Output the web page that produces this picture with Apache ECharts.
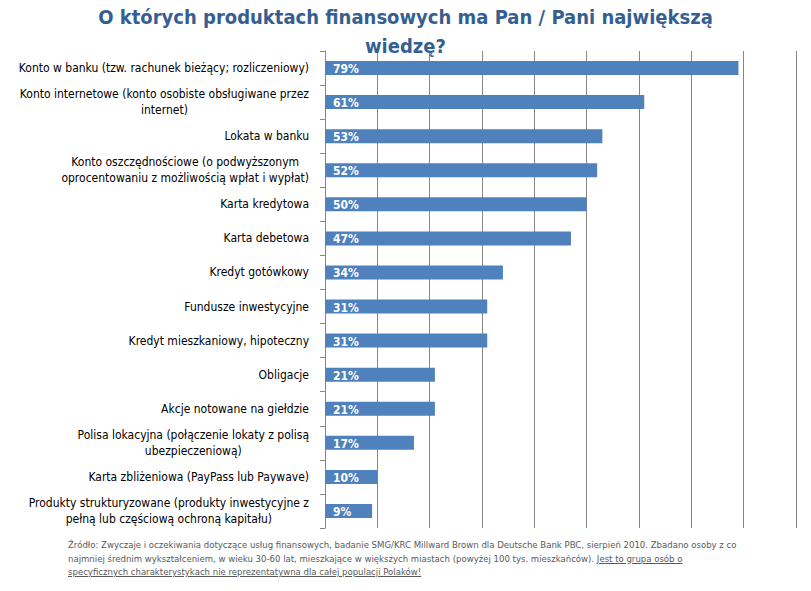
<!DOCTYPE html>
<html>
<head>
<meta charset="utf-8">
<script src="https://cdn.jsdelivr.net/npm/echarts@6/dist/echarts.min.js"></script>
<style>
html,body{margin:0;padding:0;background:#fff;}
#chart{position:absolute;left:0;top:0;width:811px;height:591px;}
#note{position:absolute;left:68px;top:538px;width:720px;font-family:"DejaVu Sans Condensed",sans-serif;font-size:9.5px;line-height:13.5px;color:#595959;white-space:nowrap;}
#note u{text-decoration:underline;}
</style>
</head>
<body>
<div id="chart"></div>
<div id="note">Źródło: Zwyczaje i oczekiwania dotyczące usług finansowych, badanie SMG/KRC Millward Brown dla Deutsche Bank PBC, sierpień 2010. Zbadano osoby z co<br>najmniej średnim wykształceniem, w wieku 30-60 lat, mieszkające w większych miastach (powyżej 100 tys. mieszkańców). <u>Jest to grupa osób o</u><br><u>specyficznych charakterystykach nie reprezentatywna dla całej populacji Polaków!</u></div>
<script>
var titleText = 'O których produktach finansowych ma Pan / Pani największą\nwiedzę?';
var categories = [
  'Konto w banku (tzw. rachunek bieżący; rozliczeniowy)',
  'Konto internetowe (konto osobiste obsługiwane przez\ninternet)',
  'Lokata w banku',
  'Konto oszczędnościowe (o podwyższonym\noprocentowaniu z możliwością wpłat i wypłat)',
  'Karta kredytowa',
  'Karta debetowa',
  'Kredyt gotówkowy',
  'Fundusze inwestycyjne',
  'Kredyt mieszkaniowy, hipoteczny',
  'Obligacje',
  'Akcje notowane na giełdzie',
  'Polisa lokacyjna (połączenie lokaty z polisą\nubezpieczeniową)',
  'Karta zbliżeniowa (PayPass lub Paywave)',
  'Produkty strukturyzowane (produkty inwestycyjne z\npełną lub częściową ochroną kapitału)'
];
var values = [79, 61, 53, 52, 50, 47, 34, 31, 31, 21, 21, 17, 10, 9];
var axisMin = 0, axisMax = 90, axisStep = 10;

var FONT = '"DejaVu Sans Condensed",sans-serif';
var chart = echarts.init(document.getElementById('chart'), null, {renderer: 'svg'});
chart.setOption({
  animation: false,
  backgroundColor: '#fff',
  title: {
    text: titleText.split('\n').map(function (s) { return '{t|' + s + '}'; }).join('\n'),
    left: 'center',
    top: 2,
    padding: 0,
    textStyle: {
      rich: {t: {align: 'center', color: '#365F91', fontSize: 20, fontWeight: 'bold', fontFamily: FONT, lineHeight: 29}}
    }
  },
  grid: {left: 325, right: 15, top: 51, bottom: 63, containLabel: false},
  xAxis: {
    type: 'value', min: axisMin, max: axisMax, interval: axisStep,
    axisLabel: {show: false}, axisTick: {show: false}, axisLine: {show: false},
    splitLine: {show: true, lineStyle: {color: '#868686', width: 1}}
  },
  yAxis: {
    type: 'category', inverse: true, data: categories,
    axisLine: {show: true, lineStyle: {color: '#868686', width: 1}},
    axisTick: {show: true, length: 5, alignWithLabel: false, lineStyle: {color: '#868686'}},
    axisLabel: {
      margin: 16,
      formatter: function (v) { return v.split('\n').map(function (s) { return '{c|' + s + '}'; }).join('\n'); },
      rich: {c: {align: 'center', fontSize: 12, lineHeight: 16, color: '#000', fontFamily: FONT}}
    },
    splitLine: {show: false}
  },
  series: [{
    type: 'bar', data: values, barWidth: 14,
    itemStyle: {color: '#4F81BD'},
    label: {show: true, position: 'insideLeft', offset: [3, 1], formatter: '{c}%', color: '#fff', fontWeight: 'bold', fontSize: 12, fontFamily: FONT}
  }]
});
</script>
</body>
</html>
